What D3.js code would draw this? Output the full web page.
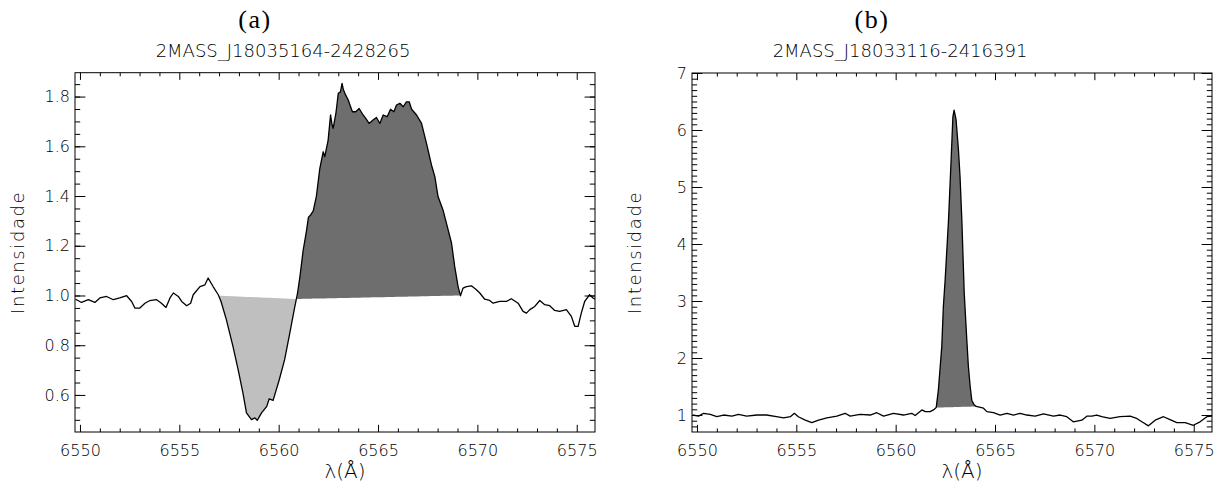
<!DOCTYPE html>
<html>
<head>
<meta charset="utf-8">
<script src="https://cdn.jsdelivr.net/npm/d3@7"></script>
<style>
  html, body { margin: 0; padding: 0; background: #fff; }
  svg text { font-family: "DejaVu Sans", sans-serif; font-weight: 200; fill: #000; }
  .panelLabel { font-family: "Liberation Serif", "DejaVu Serif", serif !important; font-weight: normal !important; }
</style>
</head>
<body>
<svg id="figure"></svg>
<script>
// Panel (a) spectrum
let lambdaA = [6549.78, 6550.08, 6550.42, 6550.75, 6551.0, 6551.34, 6551.68, 6552.0, 6552.35, 6552.6,
  6552.77, 6553.0, 6553.27, 6553.5, 6553.86, 6554.1, 6554.33, 6554.53, 6554.7, 6554.95,
  6555.12, 6555.37, 6555.57, 6555.7, 6556.04, 6556.29, 6556.45, 6556.7, 6556.96, 6557.1,
  6557.37, 6557.7, 6557.96, 6558.2, 6558.38, 6558.63, 6558.8, 6558.92, 6559.14, 6559.4,
  6559.52, 6559.72, 6560.03, 6560.3, 6560.56, 6560.8, 6560.95, 6561.07, 6561.23, 6561.4,
  6561.5, 6561.62, 6561.74, 6561.9, 6562.07, 6562.24, 6562.32, 6562.49, 6562.61, 6562.68,
  6562.74, 6562.88, 6563.0, 6563.11, 6563.19, 6563.25, 6563.33, 6563.5, 6563.71, 6563.88,
  6564.05, 6564.25, 6564.4, 6564.55, 6564.75, 6564.92, 6565.09, 6565.26, 6565.46, 6565.63,
  6565.8, 6565.93, 6566.1, 6566.27, 6566.43, 6566.57, 6566.69, 6566.94, 6567.19, 6567.44,
  6567.69, 6567.86, 6568.02, 6568.27, 6568.53, 6568.7, 6568.86, 6569.03, 6569.15, 6569.28,
  6569.45, 6569.7, 6569.95, 6570.12, 6570.37, 6570.62, 6570.79, 6571.13, 6571.46, 6571.71,
  6572.05, 6572.3, 6572.47, 6572.64, 6572.89, 6573.14, 6573.39, 6573.64, 6573.89, 6574.14,
  6574.48, 6574.73, 6574.9, 6575.07, 6575.23, 6575.4, 6575.65, 6575.82, 6575.92]
let intensityA = [0.985, 0.972, 0.983, 0.972, 0.99, 0.996, 0.983, 0.99, 0.999, 0.976,
  0.949, 0.949, 0.969, 0.979, 0.983, 0.969, 0.952, 0.99, 1.01, 0.996,
  0.976, 0.959, 0.969, 1.003, 1.036, 1.043, 1.07, 1.036, 1.003, 0.976,
  0.902, 0.795, 0.702, 0.608, 0.528, 0.501, 0.508, 0.498, 0.528, 0.554,
  0.584, 0.578, 0.661, 0.742, 0.849, 0.95, 1.01, 1.076, 1.18, 1.26,
  1.315, 1.325, 1.34, 1.40, 1.51, 1.578, 1.558, 1.625, 1.726, 1.69,
  1.672, 1.732, 1.813, 1.819, 1.853, 1.83, 1.813, 1.786, 1.739, 1.739,
  1.752, 1.726, 1.71, 1.692, 1.706, 1.716, 1.692, 1.726, 1.719, 1.749,
  1.739, 1.766, 1.773, 1.759, 1.779, 1.779, 1.749, 1.726, 1.692, 1.612,
  1.525, 1.478, 1.398, 1.344, 1.264, 1.21, 1.116, 1.036, 0.999, 1.03,
  1.036, 1.039, 1.023, 1.01, 0.985, 0.98, 0.969, 0.976, 0.976, 0.987,
  0.969, 0.936, 0.929, 0.943, 0.956, 0.98, 0.963, 0.959, 0.94, 0.936,
  0.943, 0.916, 0.876, 0.876, 0.929, 0.976, 1.003, 0.99, 0.985]

// Panel (b) spectrum
let lambdaB = [6549.78, 6550.08, 6550.33, 6550.67, 6551.0, 6551.34, 6551.76, 6552.09, 6552.5, 6553.02,
  6553.5, 6554.0, 6554.36, 6554.7, 6554.9, 6555.1, 6555.45, 6555.78, 6556.12, 6556.54,
  6557.04, 6557.46, 6557.71, 6558.21, 6558.72, 6559.05, 6559.39, 6559.89, 6560.39, 6560.81,
  6560.98, 6561.32, 6561.49, 6561.74, 6561.9, 6562.04, 6562.15, 6562.32, 6562.4, 6562.49,
  6562.66, 6562.79, 6562.88, 6562.94, 6563.04, 6563.16, 6563.24, 6563.33, 6563.45, 6563.58,
  6563.66, 6563.75, 6563.83, 6563.95, 6564.05, 6564.42, 6564.59, 6564.92, 6565.26, 6565.6,
  6565.93, 6566.26, 6566.6, 6567.02, 6567.44, 6567.94, 6568.28, 6568.61, 6568.94, 6569.37,
  6569.62, 6569.87, 6570.12, 6570.37, 6570.79, 6571.29, 6571.8, 6572.13, 6572.47, 6572.72,
  6573.06, 6573.48, 6573.81, 6574.15, 6574.57, 6574.98, 6575.32, 6575.66, 6575.92]
let intensityB = [1.0, 0.98, 1.03, 1.01, 0.97, 1.0, 0.98, 1.01, 0.98, 1.0,
  1.0, 0.97, 0.95, 0.97, 1.03, 0.97, 0.91, 0.865, 0.91, 0.95,
  0.98, 1.03, 0.98, 1.01, 1.0, 1.04, 0.98, 1.03, 1.0, 1.03,
  0.99, 1.09, 1.06, 1.06, 1.09, 1.13, 1.44, 2.2, 2.9, 3.37,
  4.42, 5.47, 6.23, 6.35, 6.18, 5.65, 5.18, 4.42, 3.14, 2.32,
  1.85, 1.5, 1.26, 1.18, 1.15, 1.12, 1.06, 1.04, 1.0, 1.03,
  1.0, 1.03, 1.0, 0.98, 1.02, 0.98, 1.0, 0.97, 0.88, 0.91,
  0.98, 0.98, 1.0, 0.97, 0.94, 0.97, 0.98, 0.94, 0.865, 0.81,
  0.91, 0.97, 0.92, 0.865, 0.865, 0.82, 0.88, 0.97, 0.98]

// shaded regions: [start, end] wavelength and continuum level at each end
let absorptionA = [6557.0, 6560.88], absorptionContA = [0.999, 0.986]
let emissionA = [6560.92, 6569.12], emissionContA = [0.986, 1.0]
let emissionB = [6562.04, 6564.05], emissionContB = [1.13, 1.15]

// axes
let xDomain = [6549.75, 6575.92]
let xTicks = [6550, 6555, 6560, 6565, 6570, 6575]
let yDomainA = [0.451, 1.896]
let yTicksA = [0.6, 0.8, 1.0, 1.2, 1.4, 1.6, 1.8]
let yDomainB = [0.702, 7.0]
let yTicksB = [1, 2, 3, 4, 5, 6, 7]

let titles = ["2MASS_J18035164-2428265", "2MASS_J18033116-2416391"]
let panelLabels = ["(a)", "(b)"]

const width = 1219, height = 486
const svg = d3.select("#figure").attr("width", width).attr("height", height)
svg.append("rect").attr("width", width).attr("height", height).attr("fill", "#fff")

function drawPanel(cfg) {
    let x = d3.scaleLinear().domain(xDomain).range([cfg.left, cfg.right])
    let y = d3.scaleLinear().domain(cfg.yDomain).range([cfg.bottom, cfg.top])
    let pw = cfg.right - cfg.left, ph = cfg.bottom - cfg.top
    let g = svg.append("g")

    // shaded areas between the spectrum and a straight continuum
    cfg.fills.forEach(f => {
        let cont = d3.scaleLinear().domain(f.range).range(f.cont)
        let pts = [[f.range[0], f.cont[0]]]
        cfg.lam.forEach((l, i) => { if (l > f.range[0] && l < f.range[1]) pts.push([l, cfg.inten[i]]) })
        pts.push([f.range[1], f.cont[1]])
        let area = d3.area()
            .x(d => x(d[0]))
            .y0(d => y(cont(d[0])))
            .y1(d => y(d[1]))
        g.append("path").attr("d", area(pts)).attr("fill", f.color)
    })

    // spectrum
    let line = d3.line().x(d => x(d[0])).y(d => y(d[1]))
    g.append("path")
        .attr("d", line(cfg.lam.map((l, i) => [l, cfg.inten[i]])))
        .attr("fill", "none").attr("stroke", "#000").attr("stroke-width", 1.3)
        .attr("stroke-linejoin", "round")

    // minor ticks
    let xMinor = d3.range(6550, 6576, 1).filter(v => v % 5 != 0)
    let yMinor = d3.range(Math.ceil(cfg.yDomain[0] / cfg.yMinorStep), Math.floor(cfg.yDomain[1] / cfg.yMinorStep + 1e-6) + 1)
        .map(k => +(k * cfg.yMinorStep).toFixed(3))
    let xLen = ph * 0.02, yLen = pw * 0.02

    let axes = [
        [d3.axisBottom(x).tickValues(xTicks).tickFormat(d3.format("d")).tickSize(-xLen).tickPadding(13), `translate(0,${cfg.bottom})`],
        [d3.axisBottom(x).tickValues(xMinor).tickFormat("").tickSize(-xLen / 2), `translate(0,${cfg.bottom})`],
        [d3.axisTop(x).tickValues(xTicks).tickFormat("").tickSize(-xLen), `translate(0,${cfg.top})`],
        [d3.axisTop(x).tickValues(xMinor).tickFormat("").tickSize(-xLen / 2), `translate(0,${cfg.top})`],
        [d3.axisLeft(y).tickValues(cfg.yTicks).tickFormat(cfg.yFormat).tickSize(-yLen).tickPadding(5), `translate(${cfg.left},0)`],
        [d3.axisLeft(y).tickValues(yMinor).tickFormat("").tickSize(-yLen / 2), `translate(${cfg.left},0)`],
        [d3.axisRight(y).tickValues(cfg.yTicks).tickFormat("").tickSize(-yLen), `translate(${cfg.right},0)`],
        [d3.axisRight(y).tickValues(yMinor).tickFormat("").tickSize(-yLen / 2), `translate(${cfg.right},0)`]
    ]
    axes.forEach(a => {
        let ax = g.append("g").attr("transform", a[1]).call(a[0])
        ax.select(".domain").remove()
        ax.selectAll("line").attr("stroke", "#000")
        ax.selectAll("text").attr("font-size", 16).attr("font-family", null).attr("fill", "#000")
    })

    // frame
    g.append("rect").attr("x", cfg.left).attr("y", cfg.top).attr("width", pw).attr("height", ph)
        .attr("fill", "none").attr("stroke", "#000").attr("stroke-width", 1)

    let cx = (cfg.left + cfg.right) / 2
    g.append("text").attr("x", cx - 52).attr("y", 57).attr("text-anchor", "middle")
        .attr("font-size", 18).text(cfg.title)
    g.append("text").attr("class", "panelLabel").attr("x", cx - 80).attr("y", 28).attr("text-anchor", "middle")
        .attr("font-size", 26).attr("letter-spacing", 1.5).attr("fill", "#000").text(cfg.label)
    g.append("text").attr("x", cx + 10).attr("y", 478).attr("text-anchor", "middle")
        .attr("font-size", 20).text("λ(Å)")
    g.append("text")
        .attr("transform", `translate(${cfg.left - 51},${(cfg.top + cfg.bottom) / 2}) rotate(-90)`)
        .attr("text-anchor", "middle").attr("font-size", 18).attr("letter-spacing", 1.6)
        .text("Intensidade")
}

drawPanel({
    left: 75, right: 595, top: 72.7, bottom: 432,
    yDomain: yDomainA, yTicks: yTicksA, yMinorStep: 0.05, yFormat: d3.format(".1f"),
    lam: lambdaA, inten: intensityA, title: titles[0], label: panelLabels[0],
    fills: [
        {range: absorptionA, cont: absorptionContA, color: "#bfbfbf"},
        {range: emissionA, cont: emissionContA, color: "#6e6e6e"}
    ]
})

drawPanel({
    left: 692, right: 1212, top: 73, bottom: 432,
    yDomain: yDomainB, yTicks: yTicksB, yMinorStep: 0.1, yFormat: d3.format("d"),
    lam: lambdaB, inten: intensityB, title: titles[1], label: panelLabels[1],
    fills: [
        {range: emissionB, cont: emissionContB, color: "#6e6e6e"}
    ]
})
</script>
</body>
</html>
